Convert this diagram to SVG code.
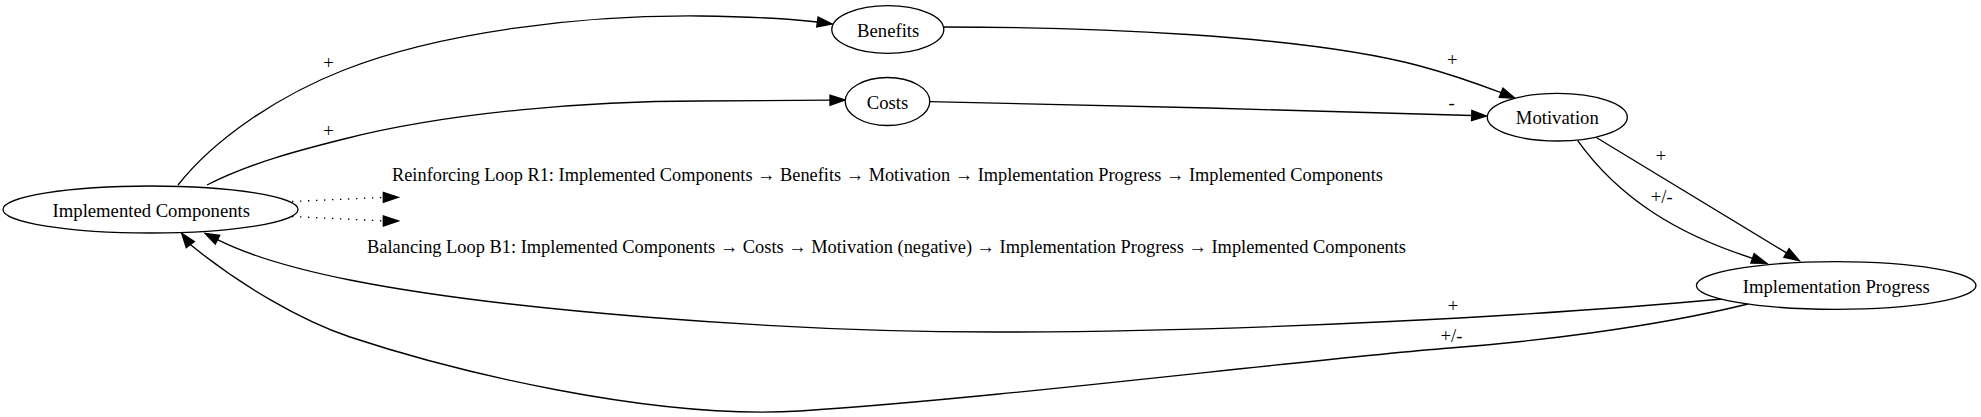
<svg xmlns="http://www.w3.org/2000/svg" width="1981" height="417" viewBox="0 0 1981 417">
<style>
text{font-family:"Liberation Serif","Times New Roman",serif;font-size:18.67px;fill:#000;text-anchor:middle}
.node ellipse{fill:#fff;stroke:#000;stroke-width:1.33}
.edge path{fill:none;stroke:#000;stroke-width:1.33}
.edge polygon{fill:#000;stroke:#000;stroke-width:1.33}
.edge path.dot{stroke-dasharray:1.4,6.6}
</style>
<rect width="1981" height="417" fill="#fff"/>
<g id="connectors">
<g class="edge" id="e_ic_benefits">
<path d="M178,185 C215,138 280,95 344,70 C440,32 580,15 700,16 C745,16.5 790,19 817.4,22"/>
<polygon points="832.3,24 818.05,17.1 816.75,27"/>
<text x="328.5" y="68.6">+</text>
</g>
<g class="edge" id="e_ic_costs">
<path d="M207,185 C250,163 300,150 344,139 C450,112 590,101 700,101 C750,101 795,100.5 830,100.2"/>
<polygon points="845,100 830,95.2 830,105.2"/>
<text x="328.5" y="136.6">+</text>
</g>
<g class="edge" id="e_benefits_motivation">
<path d="M944,27 C1080,27 1300,34 1420,66 C1450,74 1478,84 1501.1,92.7"/>
<polygon points="1515,98.3 1502.95,88.06 1499.25,97.34"/>
<text x="1452.3" y="66.4">+</text>
</g>
<g class="edge" id="e_costs_motivation">
<path d="M930,101.7 C1100,105 1300,110 1471.7,115.5"/>
<polygon points="1486.7,116 1471.85,110.5 1471.55,120.5"/>
<text x="1451.7" y="108.5">-</text>
</g>
<g class="edge" id="e_motivation_ip_plus">
<path d="M1596.7,137.7 L1786.5,252.9"/>
<polygon points="1799.3,260.7 1789.1,248.6 1783.9,257.2"/>
<text x="1661" y="162">+</text>
</g>
<g class="edge" id="e_motivation_ip_pm">
<path d="M1577.7,140.7 C1620,200 1680,235 1752.5,258.3"/>
<polygon points="1766.7,263.3 1754.15,253.6 1750.85,263"/>
<text x="1661.7" y="203">+/-</text>
</g>
<g class="edge" id="e_ip_ic_plus">
<path d="M1722,299 C1550,315 1250,332 996,332 C780,332 500,310 350,280 C300,270 250,256 217.5,239.6"/>
<polygon points="205,233.3 215.25,244.1 219.75,235.2"/>
<text x="1453" y="312">+</text>
</g>
<g class="edge" id="e_ip_ic_pm">
<path d="M1748,304 C1650,328 1530,342 1450,348 C1300,360 1000,398 800,411 C650,420 450,370 350,337 C300,320 240,285 190.3,244.6"/>
<polygon points="181.7,233.3 186.25,247.55 194.35,241.65"/>
<text x="1451.5" y="341.8">+/-</text>
</g>
<g class="edge" id="e_ic_r1">
<path class="dot" d="M292,201.5 L383.3,197.4"/>
<polygon points="398.3,197.3 383.3,192.3 383.3,202.3"/>
<text x="887.5" y="180.5" textLength="991" lengthAdjust="spacingAndGlyphs">Reinforcing Loop R1: Implemented Components → Benefits → Motivation → Implementation Progress → Implemented Components</text>
</g>
<g class="edge" id="e_ic_b1">
<path class="dot" d="M292,216.5 L383.3,220.9"/>
<polygon points="398.3,221 383.3,216 383.3,226"/>
<text x="886.5" y="253.2" textLength="1039" lengthAdjust="spacingAndGlyphs">Balancing Loop B1: Implemented Components → Costs → Motivation (negative) → Implementation Progress → Implemented Components</text>
</g>
</g>
<g id="node_ic" class="node">
<ellipse cx="150.5" cy="209.5" rx="147.5" ry="23.5"/>
<text x="151.3" y="216.6">Implemented Components</text>
</g>
<g id="node_benefits" class="node">
<ellipse cx="887.8" cy="29.5" rx="56" ry="23.8"/>
<text x="888.2" y="36.6">Benefits</text>
</g>
<g id="node_costs" class="node">
<ellipse cx="887.5" cy="101.5" rx="42.3" ry="24"/>
<text x="887.5" y="108.6">Costs</text>
</g>
<g id="node_motivation" class="node">
<ellipse cx="1557.3" cy="117.2" rx="70" ry="23.8"/>
<text x="1557.3" y="124.3">Motivation</text>
</g>
<g id="node_ip" class="node">
<ellipse cx="1836.2" cy="285.5" rx="139.8" ry="23.8"/>
<text x="1836.2" y="292.6">Implementation Progress</text>
</g>
</svg>
